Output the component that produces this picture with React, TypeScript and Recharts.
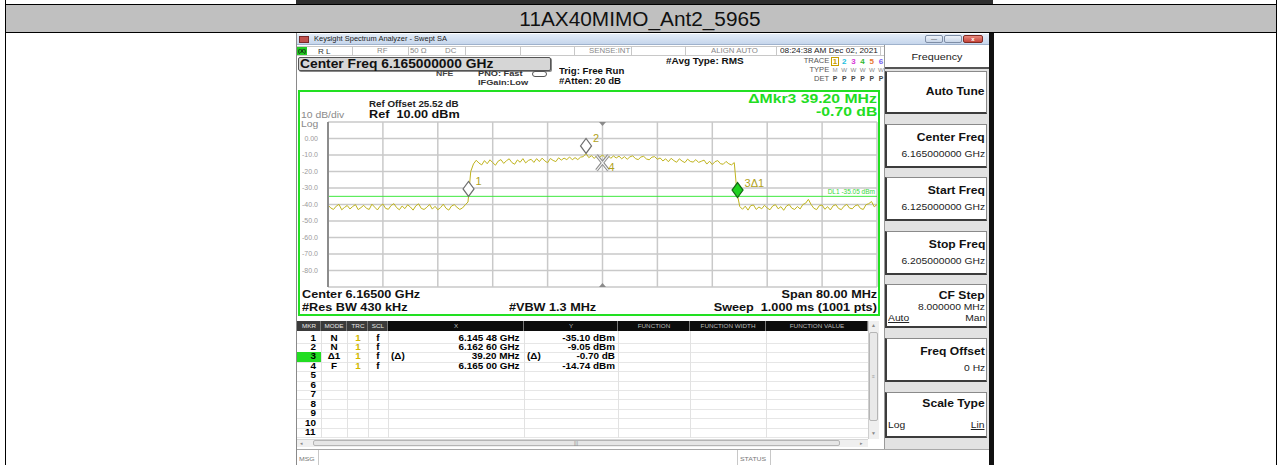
import React from 'react';
import { LineChart, Line, XAxis, YAxis, CartesianGrid, ReferenceLine, ReferenceDot } from 'recharts';

// ---------------- data ----------------
const pageTitle = '11AX40MIMO_Ant2_5965';
const traceStepMHz = 0.4; // sweep sample spacing shown (offset from 6.125 GHz start)
const traceLevels = [
  -40.3, -42.1, -43.0, -41.0, -39.9, -43.2, -41.8, -40.6, -42.7, -41.2,
  -40.1, -43.1, -41.9, -40.5, -42.3, -43.0, -39.8, -41.6, -43.3, -41.0,
  -39.7, -42.4, -42.9, -40.6, -39.5, -41.9, -43.2, -40.9, -42.5, -40.2,
  -41.5, -43.4, -40.8, -39.6, -42.4, -43.0, -41.7, -40.0, -42.8, -41.1,
  -43.2, -41.9, -39.8, -42.3, -43.4, -40.9, -40.1, -41.7, -43.0, -42.1, -40.2,
  -38.5, -20.0,
  -15.4, -13.2, -14.9, -16.0, -13.4, -15.3, -12.9, -14.6, -16.2, -13.7,
  -12.8, -15.1, -13.5, -12.3, -14.6, -15.6, -13.0, -14.4, -12.2, -14.8, -13.3, -12.6, -14.5,
  -12.2, -14.0, -11.9, -13.6, -14.7, -12.1, -13.3, -14.0, -11.7, -13.1,
  -11.9, -12.8, -11.2, -12.9, -11.6, -12.8, -11.3, -11.0,
  -9.05,
  -11.6, -10.4, -12.1, -10.2, -11.4, -10.0, -11.7, -10.3, -12.0, -10.6, -11.8,
  -10.7, -12.3, -11.0, -12.6, -11.1, -10.5, -12.2, -12.8, -11.2, -10.8, -12.4, -12.9, -11.3, -11.0, -12.6,
  -11.8, -13.6, -12.3, -14.1, -12.0, -13.4, -14.4, -12.3, -13.7, -14.6, -12.5, -13.9, -14.3, -12.8, -14.5,
  -13.8, -13.1, -15.5, -13.8, -15.8, -14.0, -13.4, -15.3, -15.6, -13.9, -15.3, -16.0, -14.6,
  -33.0, -41.2,
  -42.9, -41.0, -43.4, -40.7, -40.3, -43.0, -41.5, -42.6, -40.5, -42.1,
  -43.2, -40.9, -40.1, -42.6, -41.3, -43.5, -41.0, -40.0, -42.3, -43.0,
  -41.2, -42.7, -40.0, -39.2, -36.9, -40.0, -42.3, -43.1, -40.7, -40.3,
  -42.9, -41.3, -43.3, -40.8, -40.1, -42.4, -43.1, -41.0, -39.9, -42.2,
  -42.6, -40.8, -40.2, -42.4, -43.0, -40.1, -39.5, -38.2, -41.4, -40.0,
];
const xTicks = [0, 8, 16, 24, 32, 40, 48, 56, 64, 72, 80];
const yTicks = [10, 0, -10, -20, -30, -40, -50, -60, -70, -80, -90];
const displayLine = -35.05;
const centerMHz = 40;

const markerMHz = [20.48, 37.6, 59.68, 40.0];
const markerLevels = [-35.1, -9.05, -35.8, -14.74];
const markerLabels = ['1', '2', '3Δ1', '4'];
const markerKinds = ['open', 'open', 'active', 'fixed'];

const tableHeaders = ['MKR', 'MODE', 'TRC', 'SCL', 'X', 'Y', 'FUNCTION', 'FUNCTION WIDTH', 'FUNCTION VALUE'];
const tableMkr = ['1', '2', '3', '4', '5', '6', '7', '8', '9', '10', '11'];
const tableMode = ['N', 'N', 'Δ1', 'F'];
const tableTrc = ['1', '1', '1', '1'];
const tableScl = ['f', 'f', 'f', 'f'];
const tableXPre = ['', '', '(Δ)', ''];
const tableX = ['6.145 48 GHz', '6.162 60 GHz', '39.20 MHz', '6.165 00 GHz'];
const tableYPre = ['', '', '(Δ)', ''];
const tableY = ['-35.10 dBm', '-9.05 dBm', '-0.70 dB', '-14.74 dBm'];

const softTitles = ['Auto Tune', 'Center Freq', 'Start Freq', 'Stop Freq', 'CF Step', 'Freq Offset', 'Scale Type'];
const softValues = ['', '6.165000000 GHz', '6.125000000 GHz', '6.205000000 GHz', '8.000000 MHz', '0 Hz', ''];
const softOptions = [null, null, null, null, ['Auto', 'Man'], null, ['Log', 'Lin']];

const traceDigits = ['1', '2', '3', '4', '5', '6'];
const traceColors = ['#c8a000', '#20c0e0', '#d838d8', '#30b830', '#e87830', '#7a5cf0'];

// ---------------- helpers ----------------
const W = 1281;
const FONT = '"Liberation Sans", Arial, sans-serif';
type TP = { x: number; y: number; s: number; b?: boolean; c?: string; a?: 'l' | 'r' | 'c'; sx?: number; t: string; u?: boolean };
function Tx({ x, y, s, b, c = '#000', a = 'l', sx = 1.15, t, u }: TP) {
  const style: React.CSSProperties = {
    position: 'absolute', top: y - s * 0.5, fontSize: s, lineHeight: `${s}px`, fontWeight: b ? 700 : 400,
    color: c, whiteSpace: 'pre', textDecoration: u ? 'underline' : undefined,
    transformOrigin: a === 'r' ? 'right center' : 'left center',
    transform: a === 'c' ? `scaleX(${sx}) translateX(-50%)` : `scaleX(${sx})`,
  };
  if (a === 'r') style.right = W - x; else style.left = x;
  return <div style={style}>{t}</div>;
}
const Box = ({ l, t, w, h, st }: { l: number; t: number; w: number; h: number; st?: React.CSSProperties }) => (
  <div style={{ position: 'absolute', left: l, top: t, width: w, height: h, boxSizing: 'border-box', ...st }} />
);

const MK = '#b1a21a';
function markerShape(kind: string, label: string) {
  return (p: any) => {
    const { cx, cy } = p;
    if (kind === 'fixed') {
      const d = `M${cx - 6},${cy - 7.5} L${cx + 6},${cy + 7.5} M${cx + 6},${cy - 7.5} L${cx - 6},${cy + 7.5}`;
      return (
        <g>
          <path d={d} stroke="#8a8a8a" strokeWidth={3.2} />
          <path d={d} stroke="#f4f4f4" strokeWidth={1.2} />
          <text x={cx + 6} y={cy + 8} fontSize={11} fill={MK} fontFamily={FONT}>{label}</text>
        </g>
      );
    }
    const active = kind === 'active';
    return (
      <g>
        <polygon points={`${cx},${cy} ${cx - 5.5},${cy - 7.5} ${cx},${cy - 15} ${cx + 5.5},${cy - 7.5}`}
          fill={active ? '#1fd21f' : '#fff'} stroke={active ? '#136813' : '#6e6e6e'} strokeWidth={1.2} />
        <text x={cx + 7} y={cy - 11} fontSize={11} fill={MK} fontFamily={FONT}>{label}</text>
      </g>
    );
  };
}
const triShape = (down: boolean) => (p: any) => {
  const { cx, cy } = p;
  const pts = down ? `${cx - 3.5},${cy} ${cx + 3.5},${cy} ${cx},${cy + 4}` : `${cx - 3.5},${cy} ${cx + 3.5},${cy} ${cx},${cy - 4}`;
  return <polygon points={pts} fill="#8a8a8a" />;
};
const DLLabel = (p: any) => {
  const vb = p.viewBox || {};
  return (
    <text x={vb.x + vb.width - 2} y={vb.y - 2.5} fontSize={6.5} fill="#39d839" textAnchor="end" fontFamily={FONT}>DL1 -35.05 dBm</text>
  );
};

const traceData = traceLevels.map((v, i) => ({ f: Math.round(i * traceStepMHz * 10) / 10, v }));

function Chart() {
  return (
    <div style={{ position: 'absolute', left: 298, top: 90 }}>
      <LineChart width={582} height={226} data={traceData} margin={{ top: 32, right: 3, bottom: 29, left: 0 }}>
        <CartesianGrid stroke="#c9c9c9" strokeWidth={1.5} vertical={false} />
        <XAxis dataKey="f" type="number" domain={[0, 80]} ticks={xTicks} tick={false} tickLine={false} axisLine={false} height={0} />
        <YAxis type="number" domain={[-90, 10]} ticks={yTicks} interval={0} width={30} tickLine={false} tickSize={0} tickMargin={10}
          axisLine={{ stroke: '#8c8c8c', strokeWidth: 2 }}
          tick={{ fontSize: 7, fill: '#9a9a9a', fontFamily: FONT }}
          tickFormatter={(v: number) => (v === 10 || v === -90 ? '' : v === 0 ? '0.00' : v.toFixed(1))} />
        {xTicks.map((t) => (
          <ReferenceLine key={'vx' + t} x={t} stroke={t === 0 ? '#8c8c8c' : '#c9c9c9'} strokeWidth={t === 0 ? 2 : 1.5} />
        ))}
        <ReferenceLine y={displayLine} stroke="#3ee83e" strokeWidth={1} label={<DLLabel />} />
        <Line dataKey="v" type="linear" stroke="#c0b41e" strokeWidth={1} dot={false} isAnimationActive={false} />
        <ReferenceDot x={centerMHz} y={10} r={3} shape={triShape(true)} />
        <ReferenceDot x={centerMHz} y={-90} r={3} shape={triShape(false)} />
        {markerMHz.map((m, i) => (
          <ReferenceDot key={i} x={m} y={markerLevels[i]} r={5} shape={markerShape(markerKinds[i], markerLabels[i])} />
        ))}
      </LineChart>
    </div>
  );
}

const colX = [297, 321, 347, 368, 388, 524, 618, 690, 766, 868];

function MarkerTable() {
  const rowC = (i: number) => 338 + i * 9.45;
  const fs = 9;
  return (
    <>
      {tableHeaders.map((h, i) => (
        <React.Fragment key={h}>
          <Box l={colX[i]} t={321} w={colX[i + 1] - colX[i]} h={10}
            st={{ background: i < 4 ? '#3a3a3a' : '#0c0c0c', borderRight: '1px solid #777' }} />
          <Tx x={(colX[i] + colX[i + 1]) / 2} y={326} s={6} a="c" c={i < 4 ? '#e8e8e8' : '#bdbdbd'} t={h} sx={1.05} />
        </React.Fragment>
      ))}
      {tableMkr.map((_, i) => (
        <Box key={'r' + i} l={297} t={rowC(i) + 4.7} w={571} h={1} st={{ background: '#e6e6e6' }} />
      ))}
      {colX.slice(1, 9).map((x, i) => (
        <Box key={'c' + i} l={x} t={331} w={1} h={107} st={{ background: '#e2e2e2' }} />
      ))}
      <Box l={297} t={rowC(2) - 4.7} w={24} h={9.4} st={{ background: '#22dd22' }} />
      {tableMkr.map((m, i) => (
        <Tx key={'m' + i} x={316} y={rowC(i)} s={fs} b a="r" t={m} sx={1.1} />
      ))}
      {tableMode.map((m, i) => (
        <React.Fragment key={'d' + i}>
          <Tx x={334} y={rowC(i)} s={fs} b a="c" t={m} sx={1.1} />
          <Tx x={357.5} y={rowC(i)} s={fs} b a="c" c="#d2b800" t={tableTrc[i]} sx={1.1} />
          <Tx x={378} y={rowC(i)} s={fs} b a="c" t={tableScl[i]} sx={1.1} />
          <Tx x={391} y={rowC(i)} s={fs} b t={tableXPre[i]} sx={1.1} />
          <Tx x={520} y={rowC(i)} s={fs} b a="r" t={tableX[i]} sx={1.1} />
          <Tx x={527} y={rowC(i)} s={fs} b t={tableYPre[i]} sx={1.1} />
          <Tx x={615} y={rowC(i)} s={fs} b a="r" t={tableY[i]} sx={1.1} />
        </React.Fragment>
      ))}
      <Box l={868} t={321} w={11} h={118} st={{ background: '#efefef', borderLeft: '1px solid #cfcfcf' }} />
      <Tx x={873.5} y={325} s={5} a="c" c="#888" t="▲" sx={1} />
      <Box l={869} t={332} w={9} h={89} st={{ background: '#e9e9e9', border: '1px solid #b5b5b5', borderRadius: 2 }} />
      <Tx x={873.5} y={376} s={5} a="c" c="#999" t="≡" sx={1} />
      <Tx x={873.5} y={433} s={5} a="c" c="#888" t="▼" sx={1} />
      <Box l={297} t={439} w={571} h={8} st={{ background: '#efefef', borderTop: '1px solid #d6d6d6' }} />
      <Tx x={301} y={443} s={5} a="c" c="#888" t="◂" sx={1} />
      <Box l={313} t={440} w={527} h={6} st={{ background: '#e6e6e6', border: '1px solid #b5b5b5', borderRadius: 2 }} />
      <Tx x={576} y={443} s={5} a="c" c="#888" t="|||" sx={1} />
      <Tx x={861} y={443} s={5} a="c" c="#888" t="▸" sx={1} />
    </>
  );
}

function Softkeys() {
  const tops = [71, 124, 177, 231, 284, 338, 392];
  const bottoms = [114, 168, 221, 275, 328, 382, 438];
  return (
    <>
      <Box l={884} t={45} w={105} h={405} st={{ background: '#e2e2e2', borderLeft: '1px solid #9a9a9a' }} />
      <Box l={885} t={45} w={104} h={24} st={{ background: '#fff', borderBottom: '2px solid #555' }} />
      <Tx x={937} y={57} s={9.8} a="c" c="#222" t="Frequency" sx={1.1} />
      {softTitles.map((t, i) => {
        const top = tops[i];
        const h = bottoms[i] - tops[i];
        const opts = softOptions[i];
        const hasVal = softValues[i] !== '';
        let titleY = top + 13;
        if (i === 0) titleY = top + 20;
        if (i === 4) titleY = top + 11;
        if (i === 6) titleY = top + 11;
        return (
          <React.Fragment key={t}>
            <Box l={885} t={top} w={102} h={h}
              st={{ background: '#fff', borderLeft: '2px solid #3c3c3c', borderBottom: '2px solid #3c3c3c', borderTop: '1px solid #8a8a8a', borderRight: '1px solid #8a8a8a' }} />
            <Tx x={985} y={titleY} s={11} b a="r" c="#111" t={t} sx={1.1} />
            {hasVal && <Tx x={985} y={i === 4 ? top + 23 : top + 30} s={9.4} a="r" c="#222" t={softValues[i]} sx={1.1} />}
            {opts && (
              <>
                <Tx x={888} y={i === 4 ? top + 34 : top + 33} s={9.4} c="#222" t={opts[0]} u={i === 4} sx={1.1} />
                <Tx x={985} y={i === 4 ? top + 34 : top + 33} s={9.4} a="r" c="#222" t={opts[1]} u={i === 6} sx={1.1} />
              </>
            )}
          </React.Fragment>
        );
      })}
    </>
  );
}

export default function App() {
  const statusSep = [352, 408, 465, 520, 574, 631, 685, 776, 880];
  return (
    <div style={{ position: 'fixed', left: 0, top: 0, width: W, height: 465, background: '#fff', overflow: 'hidden', fontFamily: FONT }}>
      <Box l={296} t={0} w={697} h={4} st={{ background: '#2e2e2e' }} />
      <Box l={5} t={4} w={1272} h={29} st={{ background: '#c0c0c0', borderTop: '1px solid #000', borderBottom: '1px solid #000' }} />
      <Box l={5} t={0} w={1} h={465} st={{ background: '#000' }} />
      <Box l={1276} t={0} w={1} h={465} st={{ background: '#000' }} />
      <Tx x={640} y={18.5} s={20} a="c" sx={1.04} c="#111" t={pageTitle} />

      <Box l={296} t={33} w={694} h={432} st={{ background: '#fff', borderLeft: '1px solid #8a8a8a' }} />
      <Box l={989} t={33} w={5} h={432} st={{ background: '#111' }} />
      <Box l={297} t={34} w={692} h={11} st={{ background: 'linear-gradient(#e3ecf7, #c6d6ec)', borderBottom: '1px solid #9fb2cc' }} />
      <Box l={299} t={36} w={10} h={7} st={{ background: '#c0504d', border: '1px solid #7a2a2a' }} />
      <Tx x={314} y={39.5} s={6.5} c="#222" t="Keysight Spectrum Analyzer - Swept SA" />
      <Box l={925} t={35} w={18} h={8} st={{ background: 'linear-gradient(#eef3fa,#c9d6e8)', border: '1px solid #7f8ea6', borderRadius: 2 }} />
      <Box l={944} t={35} w={18} h={8} st={{ background: 'linear-gradient(#eef3fa,#c9d6e8)', border: '1px solid #7f8ea6', borderRadius: 2 }} />
      <Box l={963} t={35} w={20} h={8} st={{ background: 'linear-gradient(#e9887c,#c4443a)', border: '1px solid #7d2a22', borderRadius: 2 }} />
      <Tx x={934} y={39} s={6} a="c" c="#333" t="—" sx={1} />
      <Tx x={973} y={39} s={6} a="c" c="#fff" t="x" sx={1} b />

      <Box l={297} t={46} w={588} h={10} st={{ background: '#fff', borderTop: '1px solid #c8c8c8', borderBottom: '1px solid #c8c8c8' }} />
      {statusSep.map((x) => (
        <Box key={x} l={x} t={46} w={1} h={10} st={{ background: '#c8c8c8' }} />
      ))}
      <Box l={297} t={47} w={10} h={8} st={{ background: '#22cc22' }} />
      <Tx x={298} y={51} s={6} c="#111" t="(X)" sx={1} b />
      <Tx x={318} y={51} s={7} c="#333" t="R L" />
      <Tx x={377} y={51} s={6.8} c="#888" t="RF" />
      <Tx x={410} y={51} s={6.8} c="#888" t="50 Ω" />
      <Tx x={445} y={51} s={6.8} c="#888" t="DC" />
      <Tx x={589} y={51} s={6.8} c="#888" t="SENSE:INT" />
      <Tx x={711} y={51} s={6.8} c="#888" t="ALIGN AUTO" />
      <Tx x={780} y={51} s={7.2} c="#222" t="08:24:38 AM Dec 02, 2021" />

      <Box l={298} t={57} w={253} h={14} st={{ background: '#d6d6d6', border: '1px solid #555', borderRadius: 2, boxShadow: '1px 1px 0 #888' }} />
      <Tx x={300} y={64} s={12} b c="#111" t="Center Freq 6.165000000 GHz" />
      <Tx x={436} y={74} s={7.5} b c="#444" t="NFE" />
      <Tx x={478} y={74} s={8} b c="#333" t="PNO: Fast" />
      <Box l={532} t={71} w={15} h={6} st={{ border: '1px solid #555', borderRadius: 3 }} />
      <Tx x={478} y={82.5} s={8} b c="#333" t="IFGain:Low" />
      <Tx x={559} y={71} s={8.4} b c="#111" t="Trig: Free Run" />
      <Tx x={559} y={81} s={8.4} b c="#111" t="#Atten: 20 dB" />
      <Tx x={666} y={61} s={8.7} b c="#111" t="#Avg Type: RMS" />
      <Tx x={829} y={61} s={6.6} a="r" c="#555" t="TRACE" />
      <Tx x={829} y={70.5} s={6.6} a="r" c="#555" t="TYPE" />
      <Tx x={829} y={79.5} s={6.6} a="r" c="#555" t="DET" />
      <Box l={831} t={57} w={8} h={9} st={{ border: '1px solid #c8a000' }} />
      {traceDigits.map((d, i) => (
        <React.Fragment key={d}>
          <Tx x={835 + i * 9.2} y={61.5} s={8} a="c" c={traceColors[i]} t={d} sx={1} b />
          <Tx x={835 + i * 9.2} y={70.5} s={6.2} a="c" c={i === 0 ? '#999' : '#888'} t={i === 0 ? 'M' : 'W'} sx={1} />
          <Tx x={835 + i * 9.2} y={79.5} s={6.8} a="c" c="#444" t="P" sx={1} b />
        </React.Fragment>
      ))}

      <Box l={298} t={90} w={582} h={226} st={{ border: '2px solid #22e022' }} />
      <Tx x={369} y={104} s={8.5} b c="#222" t="Ref Offset 25.52 dB" />
      <Tx x={369} y={114.5} s={11} b c="#111" t="Ref  10.00 dBm" />
      <Tx x={301} y={115} s={9} c="#8a8a8a" t="10 dB/div" />
      <Tx x={301} y={124} s={9} c="#8a8a8a" t="Log" sx={1.15} />
      <Tx x={877} y={99} s={13.7} b a="r" c="#22dd22" t="ΔMkr3 39.20 MHz" />
      <Tx x={877} y={112} s={13.7} b a="r" c="#22dd22" t="-0.70 dB" />
      <Chart />
      <Tx x={302} y={294.5} s={11} b c="#111" t="Center 6.16500 GHz" />
      <Tx x={877} y={294.5} s={11} b a="r" c="#111" t="Span 80.00 MHz" />
      <Tx x={302} y={307.5} s={11} b c="#111" t="#Res BW 430 kHz" />
      <Tx x={509} y={307.5} s={11} b c="#111" t="#VBW 1.3 MHz" />
      <Tx x={877} y={307.5} s={11} b a="r" c="#111" t="Sweep  1.000 ms (1001 pts)" />

      <Box l={297} t={318} w={586} h={131} st={{ background: '#fff' }} />
      <MarkerTable />

      <Softkeys />

      <Box l={297} t={449} w={692} h={16} st={{ background: '#fff', borderTop: '1px solid #a8a8a8' }} />
      <Box l={318} t={450} w={1} h={15} st={{ background: '#c8c8c8' }} />
      <Box l={737} t={450} w={1} h={15} st={{ background: '#c8c8c8' }} />
      <Box l={770} t={450} w={1} h={15} st={{ background: '#c8c8c8' }} />
      <Tx x={299} y={459} s={6} c="#777" t="MSG" />
      <Tx x={740} y={459} s={6} c="#777" t="STATUS" />
    </div>
  );
}
